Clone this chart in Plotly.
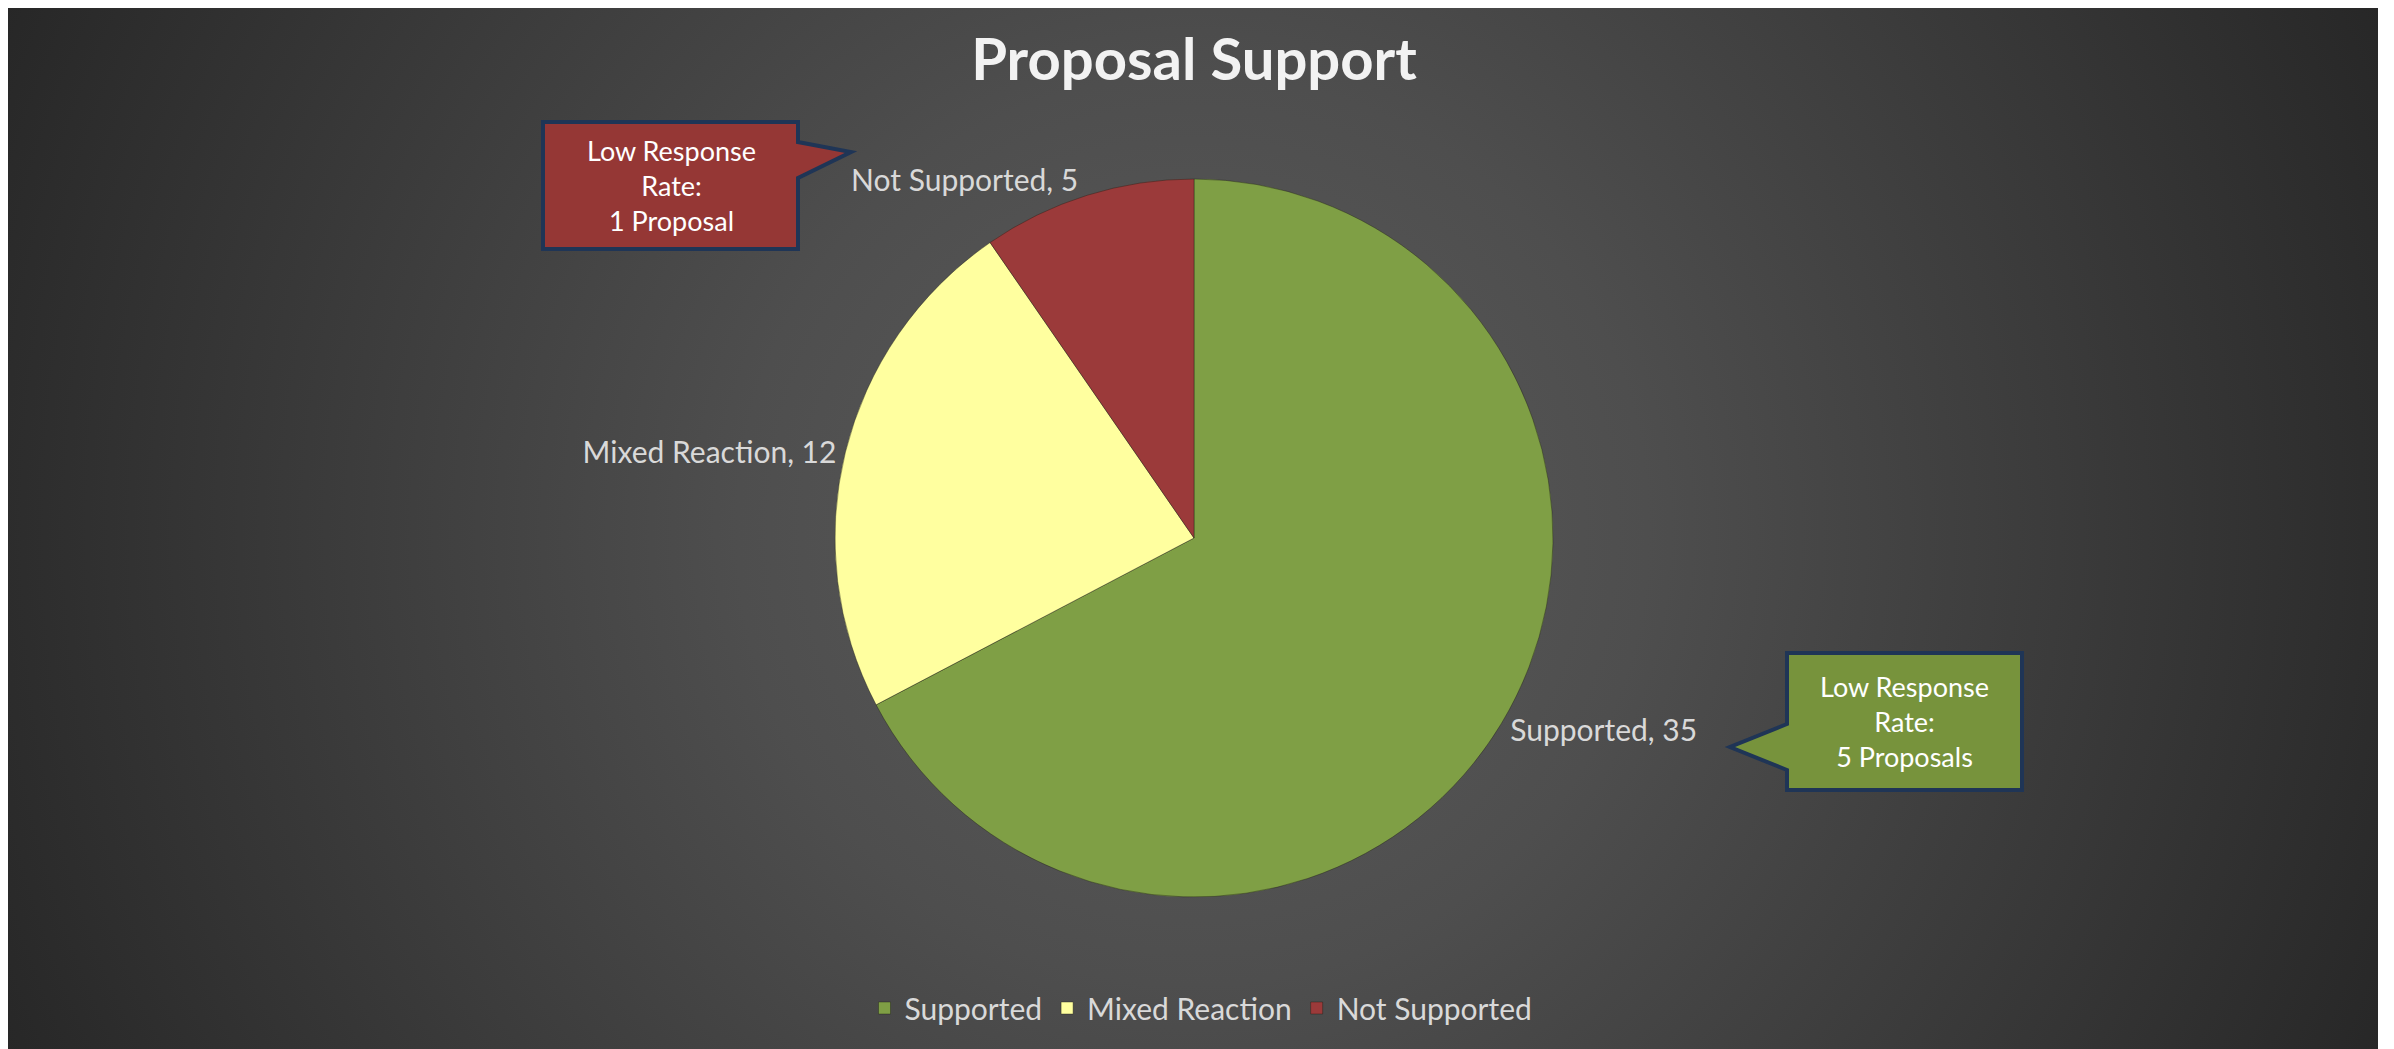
import base64
import plotly.graph_objects as go

# ---- data ----
categories = ["Supported", "Mixed Reaction", "Not Supported"]
values = [35, 12, 5]
slice_colors = ["#7F9F45", "#FFFF9F", "#9B3A3A"]
callout_lines = {
    "Not Supported": ["Low Response", "Rate:", "1 Proposal"],
    "Supported": ["Low Response", "Rate:", "5 Proposals"],
}
title_text = "Proposal Support"

# ---- canvas ----
# the page adds an 8px body margin, so the figure is drawn 8px smaller and
# every reference pixel position is shifted by that margin
PAGE_MARGIN = 8
W, H = 2394 - PAGE_MARGIN, 1049 - PAGE_MARGIN
FONT = "Lato"
LABEL_COLOR = "#D9D9D9"


def px(x):
    return (x - PAGE_MARGIN) / W


def py(y):
    return 1 - (y - PAGE_MARGIN) / H


# radial gradient background (chart area) as an SVG data URI
area_x0, area_y0, area_x1, area_y1 = PAGE_MARGIN, PAGE_MARGIN, 2378, 1049
aw, ah = area_x1 - area_x0, area_y1 - area_y0
cx, cy = 1193 - area_x0, 530 - area_y0
svg = (
    f'<svg xmlns="http://www.w3.org/2000/svg" width="{aw}" height="{ah}" viewBox="0 0 {aw} {ah}">'
    f'<defs><radialGradient id="g" gradientUnits="userSpaceOnUse" cx="{cx}" cy="{cy}" r="1300">'
    '<stop offset="0" stop-color="#5C5C5C"/><stop offset="0.35" stop-color="#4E4E4E"/>'
    '<stop offset="1" stop-color="#272727"/></radialGradient></defs>'
    f'<rect x="0" y="0" width="{aw}" height="{ah}" fill="url(#g)"/></svg>'
)
svg_uri = "data:image/svg+xml;base64," + base64.b64encode(svg.encode()).decode()

fig = go.Figure()

fig.add_trace(
    go.Pie(
        labels=categories,
        values=values,
        sort=False,
        direction="clockwise",
        rotation=0,
        marker=dict(colors=slice_colors, line=dict(color="rgba(30,30,20,0.4)", width=1)),
        texttemplate="%{label}, %{value}",
        textposition="outside",
        outsidetextfont=dict(family=FONT, size=30, color=LABEL_COLOR),
        hoverinfo="skip",
        domain=dict(x=[px(835), px(1553)], y=[py(897), py(179)]),
    )
)

# callouts (speech-bubble boxes)
NAVY = "#1F3556"


def path_from(points):
    parts = [f"M {px(points[0][0])},{py(points[0][1])}"]
    for x, y in points[1:]:
        parts.append(f"L {px(x)},{py(y)}")
    return " ".join(parts) + " Z"


red_box = [(543, 122), (798, 122), (798, 142), (851, 152), (798, 178), (798, 249), (543, 249)]
green_box = [(1787, 653), (2022, 653), (2022, 790), (1787, 790), (1787, 770), (1730, 747), (1787, 724)]

shapes = [
    dict(type="path", xref="paper", yref="paper", path=path_from(red_box),
         fillcolor="#953735", line=dict(color=NAVY, width=4), layer="above"),
    dict(type="path", xref="paper", yref="paper", path=path_from(green_box),
         fillcolor="#77933C", line=dict(color=NAVY, width=4), layer="above"),
]

annotations = [
    dict(text="<br>".join(callout_lines["Not Supported"]), x=px(671), y=py(185.5),
         xref="paper", yref="paper", xanchor="center", yanchor="middle", showarrow=False,
         align="center", font=dict(family=FONT, size=27, color="#FFFFFF")),
    dict(text="<br>".join(callout_lines["Supported"]), x=px(1904), y=py(721.5),
         xref="paper", yref="paper", xanchor="center", yanchor="middle", showarrow=False,
         align="center", font=dict(family=FONT, size=27, color="#FFFFFF")),
]

fig.update_layout(
    width=W,
    height=H,
    margin=dict(l=0, r=0, t=0, b=0),
    paper_bgcolor="#FFFFFF",
    plot_bgcolor="rgba(0,0,0,0)",
    images=[dict(source=svg_uri, xref="paper", yref="paper", x=px(area_x0), y=py(area_y0),
                 sizex=aw / W, sizey=ah / H, sizing="stretch", xanchor="left", yanchor="top",
                 layer="below")],
    title=dict(text=f"<b>{title_text}</b>", x=px(1194), y=py(59.5), xanchor="center",
               yanchor="middle", font=dict(family=FONT, size=58, color="#F2F2F2")),
    showlegend=True,
    legend=dict(orientation="h", x=px(1201), xanchor="center", y=py(1008), yanchor="middle",
                bgcolor="rgba(0,0,0,0)", font=dict(family=FONT, size=30, color=LABEL_COLOR),
                itemclick=False, itemdoubleclick=False),
    shapes=shapes,
    annotations=annotations,
)

fig.write_html("out.html")
